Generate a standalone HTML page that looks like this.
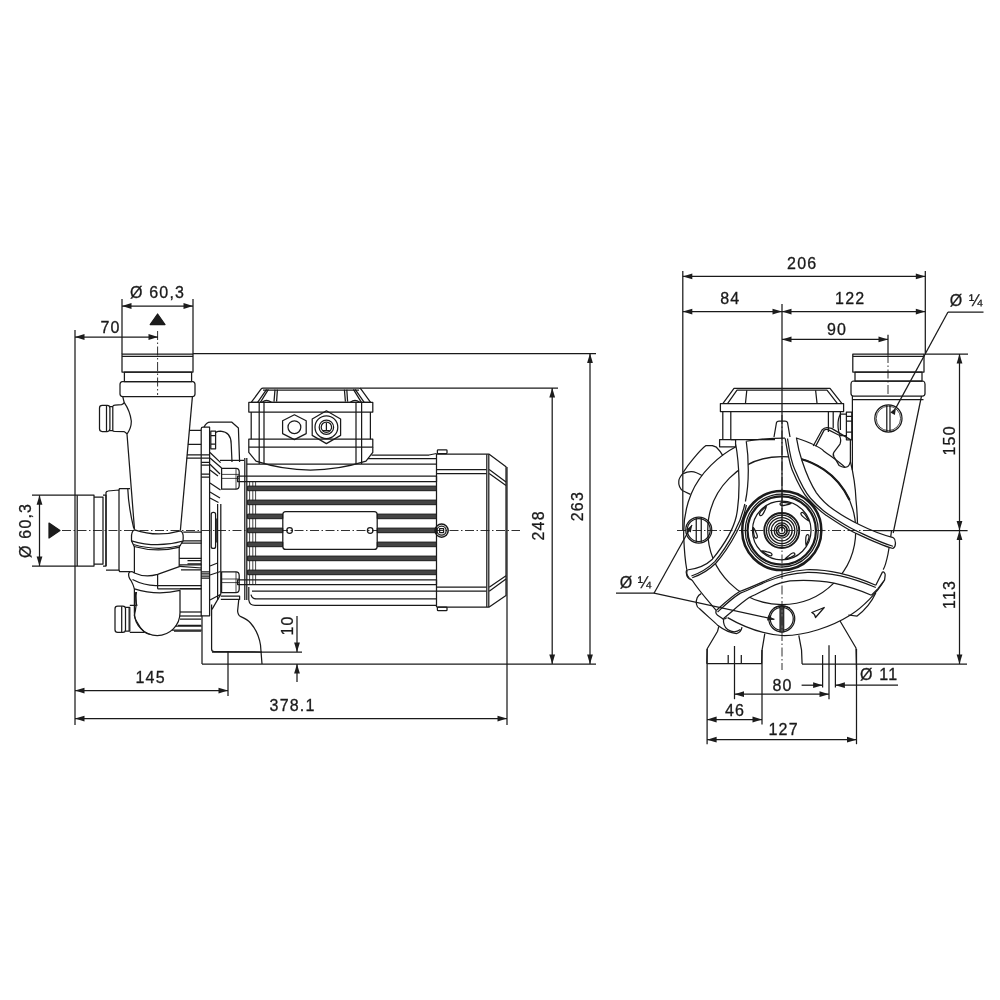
<!DOCTYPE html>
<html><head><meta charset="utf-8"><style>
html,body{margin:0;padding:0;background:#fff;}
svg{display:block;filter:grayscale(1);}
line,path,rect,circle,ellipse,polyline,polygon{stroke:#1a1a1a;stroke-width:1.25;fill:none;stroke-linecap:butt;stroke-linejoin:round;}
.ah{fill:#1c1c1c;stroke:none;}
.fill{fill:#1c1c1c;}
.cl{stroke-dasharray:9 2.5 1.5 2.5;stroke-width:0.9;}
.th{stroke-width:0.8;}
.tk{stroke-width:2.2;}
.z *{vector-effect:non-scaling-stroke;}
text{font-family:"Liberation Sans",sans-serif;fill:#1a1a1a;stroke:#1a1a1a;stroke-width:0.3;}
</style></head><body>
<svg width="1000" height="1000" viewBox="0 0 1000 1000">
<line x1="122" y1="299" x2="122" y2="354"/>
<line x1="193" y1="299" x2="193" y2="354"/>
<line x1="122" y1="306" x2="193" y2="306"/>
<path d="M122.00,306.00 L131.50,303.10 L131.50,308.90Z" class="ah"/>
<path d="M193.00,306.00 L183.50,308.90 L183.50,303.10Z" class="ah"/>
<text x="157.6" y="292" text-anchor="middle" dominant-baseline="central" font-size="16" letter-spacing="1.2">Ø 60,3</text>
<path d="M157.6,314 L165,324.5 L150.2,324.5Z" class="fill" stroke="none"/>
<line x1="75" y1="330" x2="75" y2="725"/>
<line x1="75" y1="337" x2="158" y2="337"/>
<path d="M75.00,337.00 L84.50,334.10 L84.50,339.90Z" class="ah"/>
<path d="M158.00,337.00 L148.50,339.90 L148.50,334.10Z" class="ah"/>
<text x="110.6" y="327" text-anchor="middle" dominant-baseline="central" font-size="16" letter-spacing="1.2">70</text>
<line x1="193" y1="353.5" x2="596" y2="353.5"/>
<line x1="360" y1="388" x2="558" y2="388"/>
<line x1="590" y1="353.5" x2="590" y2="664"/>
<path d="M590.00,353.50 L592.90,363.00 L587.10,363.00Z" class="ah"/>
<path d="M590.00,664.00 L587.10,654.50 L592.90,654.50Z" class="ah"/>
<line x1="552.2" y1="388" x2="552.2" y2="664"/>
<path d="M552.20,388.00 L555.10,397.50 L549.30,397.50Z" class="ah"/>
<path d="M552.20,664.00 L549.30,654.50 L555.10,654.50Z" class="ah"/>
<text x="0" y="0" transform="translate(577.2,506.09999999999997) rotate(-90)" text-anchor="middle" dominant-baseline="central" font-size="16" letter-spacing="1.2">263</text>
<text x="0" y="0" transform="translate(538.7,525.4) rotate(-90)" text-anchor="middle" dominant-baseline="central" font-size="16" letter-spacing="1.2">248</text>
<line x1="202" y1="664" x2="596" y2="664"/>
<line x1="228" y1="651" x2="228" y2="696"/>
<line x1="75" y1="690.6" x2="228" y2="690.6"/>
<path d="M75.00,690.60 L84.50,687.70 L84.50,693.50Z" class="ah"/>
<path d="M228.00,690.60 L218.50,693.50 L218.50,687.70Z" class="ah"/>
<text x="150.6" y="677" text-anchor="middle" dominant-baseline="central" font-size="16" letter-spacing="1.2">145</text>
<line x1="507" y1="467" x2="507" y2="725"/>
<line x1="75" y1="718.6" x2="507" y2="718.6"/>
<path d="M75.00,718.60 L84.50,715.70 L84.50,721.50Z" class="ah"/>
<path d="M507.00,718.60 L497.50,721.50 L497.50,715.70Z" class="ah"/>
<text x="292.6" y="705" text-anchor="middle" dominant-baseline="central" font-size="16" letter-spacing="1.2">378.1</text>
<line x1="212" y1="652" x2="302" y2="652"/>
<line x1="297" y1="616" x2="297" y2="652"/>
<path d="M297.00,652.00 L294.10,642.50 L299.90,642.50Z" class="ah"/>
<line x1="297" y1="664" x2="297" y2="682"/>
<path d="M297.00,664.00 L299.90,673.50 L294.10,673.50Z" class="ah"/>
<text x="0" y="0" transform="translate(287.5,625.4) rotate(-90)" text-anchor="middle" dominant-baseline="central" font-size="16" letter-spacing="1.2">10</text>
<line x1="32" y1="495.2" x2="75" y2="495.2"/>
<line x1="32" y1="566" x2="75" y2="566"/>
<line x1="39.5" y1="495.2" x2="39.5" y2="566"/>
<path d="M39.50,495.20 L42.40,504.70 L36.60,504.70Z" class="ah"/>
<path d="M39.50,566.00 L36.60,556.50 L42.40,556.50Z" class="ah"/>
<text x="0" y="0" transform="translate(25,530.4) rotate(-90)" text-anchor="middle" dominant-baseline="central" font-size="16" letter-spacing="1.2">Ø 60,3</text>
<path d="M49,523 L60,530.5 L49,538Z" class="fill" stroke="none"/>
<line x1="682.8" y1="271" x2="682.8" y2="530"/>
<line x1="925.3" y1="271" x2="925.3" y2="354"/>
<line x1="682.8" y1="276.4" x2="925.3" y2="276.4"/>
<path d="M682.80,276.40 L692.30,273.50 L692.30,279.30Z" class="ah"/>
<path d="M925.30,276.40 L915.80,279.30 L915.80,273.50Z" class="ah"/>
<text x="802.2" y="263" text-anchor="middle" dominant-baseline="central" font-size="16" letter-spacing="1.2">206</text>
<line x1="782" y1="304" x2="782" y2="530"/>
<line x1="682.8" y1="311.6" x2="782" y2="311.6"/>
<path d="M682.80,311.60 L692.30,308.70 L692.30,314.50Z" class="ah"/>
<path d="M782.00,311.60 L772.50,314.50 L772.50,308.70Z" class="ah"/>
<line x1="782" y1="311.6" x2="925.3" y2="311.6"/>
<path d="M782.00,311.60 L791.50,308.70 L791.50,314.50Z" class="ah"/>
<path d="M925.30,311.60 L915.80,314.50 L915.80,308.70Z" class="ah"/>
<text x="730.3000000000001" y="298.5" text-anchor="middle" dominant-baseline="central" font-size="16" letter-spacing="1.2">84</text>
<text x="850.2" y="298.5" text-anchor="middle" dominant-baseline="central" font-size="16" letter-spacing="1.2">122</text>
<line x1="888" y1="334.8" x2="888" y2="354"/>
<line x1="782" y1="339.4" x2="888" y2="339.4"/>
<path d="M782.00,339.40 L791.50,336.50 L791.50,342.30Z" class="ah"/>
<path d="M888.00,339.40 L878.50,342.30 L878.50,336.50Z" class="ah"/>
<text x="837.1" y="329" text-anchor="middle" dominant-baseline="central" font-size="16" letter-spacing="1.2">90</text>
<line x1="948" y1="312" x2="983.5" y2="312"/>
<line x1="948" y1="312" x2="896" y2="407.6"/>
<text x="966.6" y="300" text-anchor="middle" dominant-baseline="central" font-size="16" letter-spacing="1.2">Ø ¼</text>
<line x1="925" y1="354" x2="968" y2="354"/>
<line x1="870" y1="530.5" x2="967.6" y2="530.5"/>
<line x1="802" y1="664" x2="967" y2="664"/>
<line x1="959.5" y1="354" x2="959.5" y2="530.5"/>
<path d="M959.50,354.00 L962.40,363.50 L956.60,363.50Z" class="ah"/>
<path d="M959.50,530.50 L956.60,521.00 L962.40,521.00Z" class="ah"/>
<line x1="959.5" y1="530.5" x2="959.5" y2="664"/>
<path d="M959.50,530.50 L962.40,540.00 L956.60,540.00Z" class="ah"/>
<path d="M959.50,664.00 L956.60,654.50 L962.40,654.50Z" class="ah"/>
<text x="0" y="0" transform="translate(949,440.4) rotate(-90)" text-anchor="middle" dominant-baseline="central" font-size="16" letter-spacing="1.2">150</text>
<text x="0" y="0" transform="translate(949,594.4) rotate(-90)" text-anchor="middle" dominant-baseline="central" font-size="16" letter-spacing="1.2">113</text>
<line x1="707.1" y1="649" x2="707.1" y2="744.2"/>
<line x1="856.5" y1="649" x2="856.5" y2="744.2"/>
<line x1="762" y1="650" x2="762" y2="724.4"/>
<line x1="707.1" y1="719.5" x2="762" y2="719.5"/>
<path d="M707.10,719.50 L716.60,716.60 L716.60,722.40Z" class="ah"/>
<path d="M762.00,719.50 L752.50,722.40 L752.50,716.60Z" class="ah"/>
<text x="735.0" y="710" text-anchor="middle" dominant-baseline="central" font-size="16" letter-spacing="1.2">46</text>
<line x1="707.1" y1="739.7" x2="856.5" y2="739.7"/>
<path d="M707.10,739.70 L716.60,736.80 L716.60,742.60Z" class="ah"/>
<path d="M856.50,739.70 L847.00,742.60 L847.00,736.80Z" class="ah"/>
<text x="783.6" y="729.4" text-anchor="middle" dominant-baseline="central" font-size="16" letter-spacing="1.2">127</text>
<line x1="734.5" y1="646" x2="734.5" y2="699.2"/>
<line x1="829" y1="645.2" x2="829" y2="699.2"/>
<line x1="734.5" y1="694.2" x2="829" y2="694.2"/>
<path d="M734.50,694.20 L744.00,691.30 L744.00,697.10Z" class="ah"/>
<path d="M829.00,694.20 L819.50,697.10 L819.50,691.30Z" class="ah"/>
<text x="782.6" y="685" text-anchor="middle" dominant-baseline="central" font-size="16" letter-spacing="1.2">80</text>
<line x1="822.6" y1="655" x2="822.6" y2="687.5"/>
<line x1="835.4" y1="655" x2="835.4" y2="687.5"/>
<line x1="801.6" y1="685.2" x2="822.6" y2="685.2"/>
<path d="M822.60,685.20 L813.10,688.10 L813.10,682.30Z" class="ah"/>
<line x1="835.4" y1="685.2" x2="898" y2="685.2"/>
<path d="M835.40,685.20 L844.90,682.30 L844.90,688.10Z" class="ah"/>
<text x="879.1" y="674.5" text-anchor="middle" dominant-baseline="central" font-size="16" letter-spacing="1.2">Ø 11</text>
<line x1="616" y1="593.2" x2="654" y2="593.2"/>
<text x="635.8" y="582" text-anchor="middle" dominant-baseline="central" font-size="16" letter-spacing="0.6">Ø ¼</text>
<rect x="122" y="354" width="71" height="18"/>
<line x1="122" y1="356.4" x2="193" y2="356.4"/>
<rect x="124.4" y="372" width="67.2" height="9.6"/>
<path d="M122,381.6 L193,381.6 Q195,382 195,384.5 L195,394 Q195,396.5 192.5,396.6 L122.8,396.6 Q120,396.5 120,394 L120,384.5 Q120,382 122,381.6Z"/>
<path d="M122.8,396.6 Q123.5,400 124.3,402.7 Q130,411 131.3,421 Q131.5,428 127,434 L134.5,529.5"/>
<path d="M192.4,396.6 L180.4,530"/>
<path d="M102.2,405.4 L107.2,405.4 Q109.9,405.4 109.9,408.1 L109.9,428.8 Q109.9,431.5 107.2,431.5 L102.2,431.5 Q99.5,431.5 99.5,428.8 L99.5,408.1 Q99.5,405.4 102.2,405.4Z"/>
<line x1="106.5" y1="405.6" x2="106.5" y2="431.3"/>
<path d="M109.9,406.5 L112.8,406.5 L112.8,430.6 L109.9,430.6"/>
<path d="M112.8,406.5 Q113,405.4 115,405.2 L121.6,404.7 Q123.5,404 124.3,402.7"/>
<path d="M112.8,430.6 Q113,431.4 115,431.5 L124.3,431.7 Q126,432.5 127,434"/>
<line x1="157.6" y1="331" x2="157.6" y2="395" class="cl"/>
<line x1="77.2" y1="495.2" x2="77.2" y2="566"/>
<path d="M75,495.2 L94,495.2 L94,566 L75,566"/>
<path d="M94,497 L103,497 L103,564 L94,564"/>
<path d="M103,495.2 L106,495.2 L106,566 L103,566"/>
<path d="M106,566 L106,492.5 Q106.5,491 108,491 L119,490 L119,570 L106,570"/>
<path d="M119,490 L119.5,488.5 L130,488.5 M119,570 L119.5,571.5 L130,571.5"/>
<line x1="62" y1="530.5" x2="520" y2="530.5" class="cl"/>
<path d="M131.5,538 Q131.2,531 134.5,529.8 Q157,537.5 180.5,530.8 Q183.5,532 183.2,538 L183,541 Q157,548.5 131.5,540.8Z"/>
<path d="M133.5,544.5 Q157,551.5 181,545.5"/>
<path d="M134,546.5 Q157,553 180,547.2"/>
<path d="M131.5,540.8 L134.4,547 M183,541 L179.2,547"/>
<line x1="134.4" y1="547" x2="134.4" y2="573"/>
<line x1="179.2" y1="547" x2="179.2" y2="566.5"/>
<path d="M183.2,532 L201.6,532 M183,540.8 L201.6,540.8 M181,543.2 L201.6,543.2"/>
<path d="M179.2,558.4 L201.6,558.4 M179.2,564.8 L201.6,564.8 M180,566.4 L201.6,568"/>
<path d="M128.8,572.8 Q131,570.5 134.4,573 Q145,578 157.6,574.4 L180,566.4"/>
<path d="M157.6,574.4 L157.6,588.8"/>
<path d="M132.5,579.5 Q145,586 157.6,585.5 L201.6,585.5"/>
<path d="M128.8,572.8 Q128,577 131,580.5 Q133,584 134.4,588.8"/>
<path d="M157.6,588.8 L201.6,588.8"/>
<path d="M134.4,588.8 Q157,596 180,590.4 L180,612.8 A22.8,22.8 0 0 1 134.4,612.8 Z"/>
<path d="M136.5,592 Q135,600 137,606"/>
<line x1="180" y1="612" x2="201.6" y2="612"/>
<line x1="180" y1="616" x2="201.6" y2="616"/>
<path d="M175.5,626 L201.6,626 M172,630 L201.6,630"/>
<path d="M117.7,606 L122.8,606 Q125.5,606 125.5,608.7 L125.5,629.7 Q125.5,632.4 122.8,632.4 L117.7,632.4 Q115,632.4 115,629.7 L115,608.7 Q115,606 117.7,606Z"/>
<line x1="121.7" y1="606.2" x2="121.7" y2="632.2"/>
<path d="M125.5,607.4 L129.8,607.4 L129.8,631 L125.5,631"/>
<line x1="128.9" y1="607.4" x2="128.9" y2="631" class="th"/>
<path d="M129.8,605.4 L136.1,605.4 M129.8,632.4 L144.2,632.4"/>
<path d="M135.2,592 Q136.3,600 136.1,605.4 Q135.5,611 134.3,615.3 Q135,619 137,622 Q140,628 144.2,632 Q147,633.5 150,634.5"/>
<path d="M189.3,430.4 L201.2,430.4 M187.9,444.4 L201.2,444.4 M186.9,454.8 L201.2,454.8 M186.6,458 L201.2,458"/>
<path d="M201.2,615.8 L201.2,429 Q201.2,427.2 203,427.2 L209.6,427.2 L209.6,615.8 Z"/>
<path d="M201.2,454.8 L209.6,454.8 M201.2,458 L209.6,458 M201.2,462.4 L209.6,462.4 M201.2,465.2 L209.6,465.2 M201.2,474 L209.6,474 M201.2,477.2 L209.6,477.2"/>
<path d="M201.2,571.8 L209.6,571.8 M201.2,573.8 L209.6,573.8 M201.2,576.2 L209.6,576.2 M201.2,578.2 L209.6,578.2"/>
<path d="M187.5,560.6 L201.2,560.6 M187.5,563.8 L201.2,563.8 M181,569.8 L201.2,569.8"/>
<path d="M180,588.6 L201.2,588.6 M180,619 L201.2,619 M178,625.4 L201.2,625.4 M174,631 L201.2,631"/>
<path d="M210.8,431.2 L215.6,431.2 L215.6,448.8 L210.8,448.8 Z M210.8,435.6 L215.6,435.6 M210.8,444 L215.6,444"/>
<path d="M204,427.2 Q206,422 210.5,422 L231.6,422 L238.4,428 L239.6,462"/>
<path d="M215.6,432.4 Q218,431.2 220.5,431.2 Q231.2,432 231.2,444 L232,462"/>
<path d="M210,452.5 L220.6,462.6 M210,458 L221.6,468 M210,464.2 L220,474 M210,470 L218,476"/>
<path d="M210,483 L220.5,490 M210,492 L220,498 M210,498 L218.5,502.5"/>
<line x1="217.6" y1="504" x2="217.6" y2="600"/>
<line x1="220.8" y1="504" x2="220.8" y2="594.2"/>
<path d="M211.2,514.4 Q211.2,512.4 213.2,512.4 L213.6,512.4 Q215.6,512.4 215.6,514.4 L215.6,546.4 Q215.6,548.4 213.6,548.4 L213.2,548.4 Q211.2,548.4 211.2,546.4Z"/>
<line x1="216.8" y1="518.4" x2="216.8" y2="542.4"/>
<path d="M210,566 L217.6,563 M210,575 L220.5,571.5 M210,600 L220.8,594.2 M212,609.4 L220.8,594.2"/>
<path d="M220,460.4 L244,460.4"/>
<path d="M221.6,468.4 L236,468.4 Q239.2,468.4 239.2,472 L239.2,485.6 Q239.2,489.2 236,489.2 L221.6,489.2 Z"/>
<line x1="236" y1="468.4" x2="236" y2="489.2" class="th"/>
<line x1="221.6" y1="474.4" x2="239.2" y2="474.4" class="th"/>
<line x1="221.6" y1="478.4" x2="239.2" y2="478.4" class="th"/>
<path d="M221.6,571.8 L236,571.8 Q239.2,571.8 239.2,575.4 L239.2,589 Q239.2,592.6 236,592.6 L221.6,592.6 Z"/>
<line x1="236" y1="571.8" x2="236" y2="592.6" class="th"/>
<line x1="221.6" y1="579" x2="239.2" y2="579" class="th"/>
<line x1="221.6" y1="582.6" x2="239.2" y2="582.6" class="th"/>
<path d="M220.8,596.2 L239.6,596.2 L239.6,599.4 L220.8,599.4"/>
<path d="M202,615.8 L202,664"/>
<path d="M211.6,604.6 L211.6,649 Q211.6,651.6 214.2,651.6 L262,652"/>
<path d="M238.8,599.4 L237.6,611 Q238,615.5 240.8,616.6 Q247.5,619.5 250.5,623 Q258.5,632 260.5,645 L262,664"/>
<line x1="244.8" y1="458" x2="244.8" y2="600"/>
<line x1="246.8" y1="458" x2="246.8" y2="600"/>
<line x1="249.6" y1="482" x2="249.6" y2="584" class="th"/>
<line x1="252.8" y1="482" x2="252.8" y2="584" class="th"/>
<line x1="255.6" y1="482" x2="255.6" y2="584" class="th"/>
<path d="M237.6,476.2 L436.5,476.2 L436.5,481.7 L237.6,481.7 Z"/>
<path d="M237.6,579.8 L436.5,579.8 L436.5,584.6 L237.6,584.6 Z"/>
<rect x="247.6" y="486.09999999999997" width="188.9" height="4.6" style="fill:#444;stroke-width:1"/>
<rect x="247.6" y="500.09999999999997" width="188.9" height="4.6" style="fill:#444;stroke-width:1"/>
<rect x="247.6" y="556.1" width="188.9" height="4.6" style="fill:#444;stroke-width:1"/>
<rect x="247.6" y="570.1" width="188.9" height="4.6" style="fill:#444;stroke-width:1"/>
<rect x="247.6" y="514.1" width="35.20000000000002" height="4.6" style="fill:#444;stroke-width:1"/>
<rect x="377.2" y="514.1" width="59.30000000000001" height="4.6" style="fill:#444;stroke-width:1"/>
<rect x="247.6" y="528.1" width="35.20000000000002" height="4.6" style="fill:#444;stroke-width:1"/>
<rect x="377.2" y="528.1" width="59.30000000000001" height="4.6" style="fill:#444;stroke-width:1"/>
<rect x="247.6" y="542.1" width="35.20000000000002" height="4.6" style="fill:#444;stroke-width:1"/>
<rect x="377.2" y="542.1" width="59.30000000000001" height="4.6" style="fill:#444;stroke-width:1"/>
<path d="M246.8,464 L436.5,464 M368,458.5 L436.5,458.5 M371.5,455 L429,455 L436.5,453.5"/>
<path d="M248.8,587 L248.8,600 Q249.5,605.4 255,605.4 L436.5,605.4 M251,594.6 Q252,598.8 256,598.8 L436.5,598.8 M252,591 L436.5,591"/>
<rect x="282.8" y="511.6" width="94.4" height="37.8" rx="3"/>
<circle cx="289.6" cy="530.5" r="2.8"/>
<circle cx="370.2" cy="530.5" r="2.8"/>
<path d="M436.5,453.5 L436.5,607 M436.5,454.2 L486.4,454.2 L489.2,454.2 L506,466.8 L506,595.6 L489.2,607 L436.5,607"/>
<line x1="486.8" y1="454.2" x2="486.8" y2="607"/>
<line x1="488.8" y1="454.2" x2="488.8" y2="607"/>
<path d="M436.5,469.6 L486.4,469.6 M436.5,473.5 L486.4,473.5 M489.2,469.6 L506,482 M489.2,473.5 L506,485.5"/>
<path d="M436.5,587.2 L486.4,587.2 M436.5,591.2 L486.4,591.2 M489.2,591.2 L506,579 M489.2,587.2 L506,575.8"/>
<rect x="437.4" y="449.8" width="9.6" height="3.7" rx="0.8"/>
<rect x="437.4" y="607" width="9.6" height="3.7" rx="0.8"/>
<circle cx="441.6" cy="530.6" r="6.6" style="stroke-width:1.5"/>
<circle cx="441.6" cy="530.6" r="4.6"/>
<rect x="439.6" y="528.6" width="4" height="4"/>
<path d="M251.2,402.4 L261,389.2 Q261.8,388.2 263,388.2 L359,388.2 Q360.2,388.2 361,389.2 L370.6,402.4" stroke-width="1.5"/>
<path d="M257.6,402.4 L266.6,389.4 M260.4,402.4 L268.4,389.4 M364.2,402.4 L355.2,389.4 M361.4,402.4 L353.4,389.4"/>
<path d="M275,389.6 L274,401.6 M277.4,389.6 L276.6,401.6 M346.8,389.6 L347.6,401.6 M344.4,389.6 L345.4,401.6"/>
<path d="M262.4,402.2 Q266,398.5 271.4,402.2 M350.4,402.2 Q355,398.5 359.6,402.2"/>
<line x1="263" y1="390" x2="359" y2="390"/>
<line x1="251.2" y1="402.4" x2="370.6" y2="402.4"/>
<rect x="248.8" y="402.4" width="124" height="9.6"/>
<rect x="248.8" y="439.2" width="124" height="8"/>
<line x1="251.2" y1="412" x2="251.2" y2="439.2"/>
<line x1="370.4" y1="412" x2="370.4" y2="439.2"/>
<line x1="259.2" y1="402.4" x2="259.2" y2="464"/>
<line x1="264" y1="402.4" x2="264" y2="464"/>
<line x1="356" y1="402.4" x2="356" y2="464"/>
<line x1="361.6" y1="402.4" x2="361.6" y2="464"/>
<path d="M248.8,447.2 L248.8,452.4 L256,461.2 Q310,479 366,461.2 L372.8,452.4 L372.8,447.2"/>
<polygon points="294.4,414.8 306.2,420.8 306.2,433.6 294.4,439.6 282.6,433.6 282.6,420.8"/>
<circle cx="294.4" cy="427.2" r="6.4"/>
<polygon points="326.4,410.8 340.6,419 340.6,435.4 326.4,443.6 312.2,435.4 312.2,419"/>
<circle cx="326.4" cy="427.2" r="11.4"/>
<circle cx="326.4" cy="427.2" r="7.2" stroke-width="1.4"/>
<circle cx="326.4" cy="427.2" r="5.2"/>
<path d="M326.4,423 L326.4,430.5 M323,430.5 L329.8,430.5" stroke-width="0.9"/>
<rect x="852.8" y="354" width="71.2" height="18"/>
<line x1="852.8" y1="356.4" x2="924" y2="356.4"/>
<rect x="855" y="372" width="67" height="9"/>
<path d="M853,381 L923,381 Q925,381.5 925,384 L925,393.5 Q925,396 922.5,396 L853.5,396 Q851,396 851,393.5 L851,384 Q851,381.5 853,381Z"/>
<line x1="888" y1="354" x2="888" y2="396" class="cl"/>
<path d="M852.4,396 L852.4,470"/>
<line x1="852.4" y1="399.6" x2="923.5" y2="399.6"/>
<path d="M921.5,396 L893.2,533"/>
<circle cx="888.4" cy="418.4" r="13.6"/>
<circle cx="888.4" cy="418.4" r="12.2" class="th"/>
<line x1="886.8" y1="405" x2="886.8" y2="431.8"/>
<line x1="890" y1="405" x2="890" y2="431.8"/>
<path d="M896.00,407.60 L894.89,414.99 L890.34,412.47Z" class="ah"/>
<path d="M722.8,403.6 L734,388.4 L830,388.4 L842,403.6"/>
<path d="M727.5,403.6 L737,390.2 L827,390.2 L837.5,403.6"/>
<path d="M746.8,390.2 L745.5,403 M815.6,390.2 L817,403"/>
<rect x="720.4" y="403.6" width="123.2" height="8"/>
<path d="M722.8,411.6 L722.8,440 M730.8,411.6 L730.8,440 M828.4,411.6 L828.4,432 M833.2,411.6 L833.2,428 M840.4,411.6 L840.4,430"/>
<path d="M719.6,439.6 L735.6,439.6 L735.6,446.8 L719.6,446.8Z"/>
<path d="M774,437 L776.5,422.5 Q777,421 779,421 L785,421 Q787,421 787.5,422.5 L790,437"/>
<path d="M730.8,439.6 L775,439.6"/>
<g class="z" transform="translate(660,420) scale(0.25)"><path d="M302,108 C240,140 160,210 125,295 C100,355 93,420 95,470 C97,520 100,560 107,598"/><path d="M107,598 C100,612 108,636 128,640"/><path d="M128,640 C160,690 200,730 254,797"/><path d="M164.8,694.4 C150,700 143,720 145.6,736 C147,746 151,751 158.4,755.2 C190,785 215,805 232,822.4 C255,840 280,852 305.6,854.4 C318,852 326,840 328,828.8"/><path d="M254.4,796.8 C252,810 258,830 270.4,838.4 C285,848 305,850 321.6,838.4"/><path d="M345,85 C400,76 450,72 500,72"/><path d="M545,72 C600,90 640,108 656,124.8 C690,150 720,170 739.2,188.8"/><path d="M92.8,209.6 C105,190 120,170 132.8,155.2 C150,135 170,112 184,102.4 L209.6,102.4 L225.6,108.8 C235,118 245,130 251.2,142.4"/><path d="M92.8,212.8 C82,225 75,235 75.2,244.8 C74,255 76,262 78.4,267.2 C82,275 86,280 91.2,283.2 L121.6,297.6"/><path d="M92.8,214.4 C105,208 115,206 126.4,206.4 C140,207 155,214 168,222.4"/><path d="M612.8,104 L648,40 C655,32 662,30 668.8,30.4 L686.4,33.6 L761.6,78.4 L761.6,166.4 C758,180 752,188 744,188.8 C735,190 725,188 716.8,182.4 L696,147"/><path d="M696,147 C690,140 692,135 696,128 L720,96 C724,85 722,70 716.8,60.8 L672,38.4 C665,36 660,37 656,41.6 L622.4,105.6"/><path d="M761.6,166.4 C775,220 782,270 784,320 C788,360 790,400 790,420"/><path d="M926.4,440 C922,480 915,520 912,536 C905,570 898,590 892.8,598.4"/><path d="M270.4,790.4 C330,825 400,855 487,862 C580,865 690,825 762,780 C810,750 870,690 898,640"/><path d="M753.2,780 L788.4,784.4 C820,760 850,720 863.2,692"/><circle cx="487" cy="442" r="296"/><path d="M302.0,92.0 C318,180 322,300 305.6,384 C295,430 272,480 209.6,556.8 C180,585 150,595 108.8,600 L108.8,600.0 C104,612 110,632 128,640 L129.0,631.0 C166.0,618.0 196.0,600.0 224.0,572.0 C256.0,536.0 282.0,495.0 305.0,452.0 C325.0,415.0 337.0,382.0 345.6,340.0 L341.6,326.0 C358.0,250.0 355.0,150.0 345.0,85.0 Z" style="fill:#fff;stroke:none"/><path d="M500.8,73.6 C510,130 520,180 529.6,201.6 C550,250 570,290 593.6,316.8 C620,345 640,365 664,380.8 C700,405 740,432 772.8,448 C820,470 880,500 932,514 L932.0,514.0 C946.0,505.0 944.0,478.0 932.8,470.4 L932.8,470.4 C890.0,460.0 840.0,440.0 798.4,419.2 C770.0,405.0 740.0,390.0 708.8,368.0 C680.0,350.0 650.0,325.0 625.6,291.2 C605.0,260.0 585.0,215.0 568.0,163.2 C560.0,140.0 552.0,110.0 545.6,70.4 Z" style="fill:#fff;stroke:none"/><path d="M863.2,661.2 C815,640 770,625 718,612.8 C670,602 620,598 586,599 C520,604 470,619 424,642 C390,657 350,675 318.4,686 C280,710 250,740 225.6,761.6 L225.6,761.6 C222,768 224,776 230.4,780.8 L251.2,795.2 C257,797 262,795 267.2,790.4 L254.4,793.6 C290.0,765.0 320.0,735.0 356.8,710.4 C380.0,698.0 410.0,685.0 440.0,668.8 C465.0,657.0 490.0,648.0 520.0,643.6 C580.0,640.0 640.0,642.0 696.0,652.4 C750.0,665.0 800.0,680.0 845.6,700.8 L845.6,700.8 L872.0,674.4 L898.4,639.2 L900.6,621.6 C902.0,614.0 896.0,606.0 889.6,608.4 L863.2,661.2 Z" style="fill:#fff;stroke:none"/><path d="M302,92 C318,180 322,300 305.6,384 C295,430 272,480 209.6,556.8 C180,585 150,595 108.8,600"/><path d="M345,85 C355,150 358,250 341.6,326"/><path d="M339.2,336 C330,380 318,410 298.4,446.4 C275,490 250,530 219.2,566.4 C190,595 160,612 125.6,624"/><path d="M345.6,340 C337,382 325,415 305,452 C282,495 256,536 224,572 C196,600 166,618 129,631"/><path d="M108.8,600 C104,612 110,632 128,640"/><path d="M500.8,73.6 C510,130 520,180 529.6,201.6 C550,250 570,290 593.6,316.8 C620,345 640,365 664,380.8 C700,405 740,432 772.8,448 C820,470 880,500 932,514"/><path d="M510,74 C518,130 530,180 540,200 C560,248 580,288 602,313 C628,342 648,360 672,376 C708,400 748,426 780,441 C826,462 884,492 932,505"/><path d="M545.6,70.4 C552,110 560,140 568,163.2 C585,215 605,260 625.6,291.2 C650,325 680,350 708.8,368 C740,390 770,405 798.4,419.2 C840,440 890,460 932.8,470.4"/><path d="M932.8,470.4 C944,478 946,505 932,514"/><path d="M863.2,661.2 C815,640 770,625 718,612.8 C670,602 620,598 586,599 C520,604 470,619 424,642 C390,657 350,675 318.4,686 C280,710 250,740 225.6,761.6"/><path d="M863.2,670 C815,650 770,635 722.4,623.8 C675,614 625,609 590,609.5 C525,613 472,628 427.2,646 C390,662 355,680 321.6,692.5 C285,715 255,745 230.4,768"/><path d="M845.6,700.8 C800,680 750,665 696,652.4 C640,642 580,640 520,643.6 C490,648 465,657 440,668.8 C410,685 380,698 356.8,710.4 C320,735 290,765 254.4,793.6"/><path d="M863.2,661.2 L889.6,608.4 C896,606 902,614 900.6,621.6 L898.4,639.2 L872,674.4 L845.6,700.8"/><path d="M225.6,761.6 C222,768 224,776 230.4,780.8 L251.2,795.2 C257,797 262,795 267.2,790.4"/><path d="M566.4,156.8 C600,165 630,182 656,198.4 C700,228 735,270 758.4,320" style="stroke-width:2.2"/><circle cx="487" cy="442" r="158.4" style="stroke-width:2.5"/><circle cx="487" cy="442" r="146"/><circle cx="487" cy="442" r="136.8" style="stroke-width:2.2"/><circle cx="487" cy="442" r="117.2"/><circle cx="487" cy="442" r="70" style="stroke-width:1.9"/><circle cx="487" cy="442" r="61.2"/><circle cx="487" cy="442" r="52"/><circle cx="487" cy="442" r="41.6"/><circle cx="487" cy="442" r="30.4"/><circle cx="487" cy="442" r="21.6" style="stroke-width:1.8"/><circle cx="487" cy="442" r="12.8"/><path transform="translate(502.0,335.1) rotate(-4.0)" d="M-22,0 C-22,-7 -12,-7 0,-5 C10,-3 20,-1 22,0 C20,1 10,4 0,5 C-12,7 -22,7 -22,0Z"/><path transform="translate(580.0,387.1) rotate(47.4)" d="M-22,0 C-22,-7 -12,-7 0,-5 C10,-3 20,-1 22,0 C20,1 10,4 0,5 C-12,7 -22,7 -22,0Z"/><path transform="translate(587.9,480.5) rotate(98.9)" d="M-22,0 C-22,-7 -12,-7 0,-5 C10,-3 20,-1 22,0 C20,1 10,4 0,5 C-12,7 -22,7 -22,0Z"/><path transform="translate(519.9,544.9) rotate(150.3)" d="M-22,0 C-22,-7 -12,-7 0,-5 C10,-3 20,-1 22,0 C20,1 10,4 0,5 C-12,7 -22,7 -22,0Z"/><path transform="translate(427.1,531.8) rotate(201.7)" d="M-22,0 C-22,-7 -12,-7 0,-5 C10,-3 20,-1 22,0 C20,1 10,4 0,5 C-12,7 -22,7 -22,0Z"/><path transform="translate(379.4,451.1) rotate(253.1)" d="M-22,0 C-22,-7 -12,-7 0,-5 C10,-3 20,-1 22,0 C20,1 10,4 0,5 C-12,7 -22,7 -22,0Z"/><path transform="translate(412.8,363.6) rotate(304.6)" d="M-22,0 C-22,-7 -12,-7 0,-5 C10,-3 20,-1 22,0 C20,1 10,4 0,5 C-12,7 -22,7 -22,0Z"/><circle cx="155" cy="440" r="52"/><circle cx="155" cy="440" r="46"/><path d="M145,392 L145,490 M165,390 L165,490"/><circle cx="487" cy="795" r="52"/><circle cx="487" cy="795" r="46"/><path d="M480,745 L480,848 L495,848 L495,745 Z" style="fill:#555;stroke-width:1.1"/><path d="M455,752 Q487,735 520,752"/><path d="M607,770 L657,750 L622,790 Q620,775 607,770Z"/><path d="M235.2,825.6 L230.4,844.8 L188.8,915.2 L187.2,975"/><path d="M419.2,854.4 L408,921.6 L406.4,975"/><path d="M555.2,861.4 L566.2,920.8 L568.4,975.8"/><path d="M720.2,804.2 L784,912 L786.2,1000"/></g>
<line x1="677" y1="530.5" x2="900" y2="530.5" class="cl"/>
<line x1="782" y1="415" x2="782" y2="670" class="cl"/>
<line x1="654" y1="593.2" x2="692" y2="525"/>
<path d="M692.00,525.00 L690.83,532.38 L686.30,529.82Z" class="ah"/>
<line x1="654" y1="593.2" x2="774.4" y2="619.4"/>
<path d="M774.40,619.40 L767.00,620.38 L768.15,615.31Z" class="ah"/>
<line x1="707.1" y1="663.6" x2="762" y2="663.6"/>
<line x1="728.2" y1="655" x2="728.2" y2="663.6"/>
<line x1="741.3" y1="655" x2="741.3" y2="663.6"/>
<path d="M846.4,414 L840.5,414 Q838,418 838,425 Q838,432 840.5,435.6 L846.4,435.6"/>
<path d="M846.4,412.2 L851.8,412.2 L851.8,439.8 L846.4,439.8 Z M846.4,416.4 L851.8,416.4 M846.4,421.2 L851.8,421.2 M846.4,432 L851.8,432"/>
<path d="M127.8,489 Q128.5,507 133.8,528.5" stroke-width="1.0"/>
</svg>
</body></html>
